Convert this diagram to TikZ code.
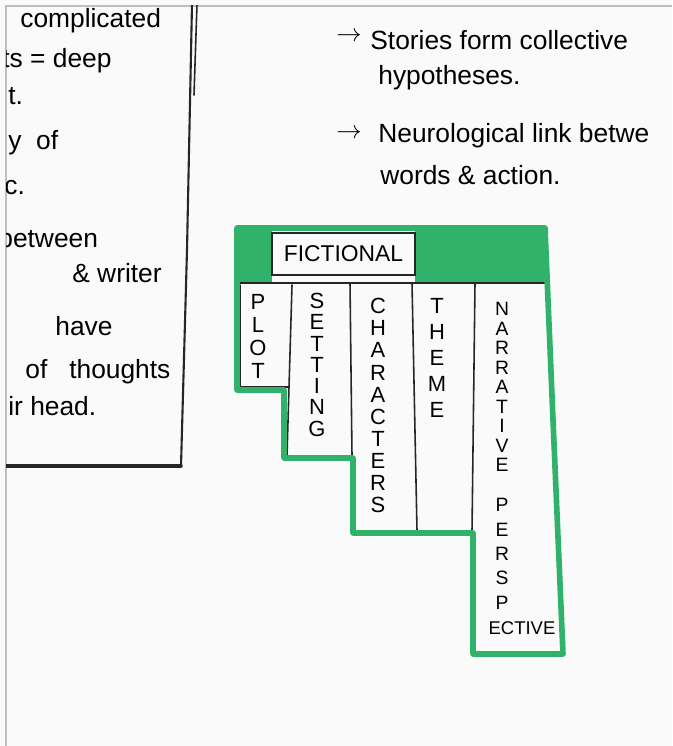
\documentclass[tikz,border=0pt]{standalone}
\usepackage{fontspec}
\setmainfont{Liberation Sans}
\definecolor{marker}{RGB}{48,178,106}
\definecolor{paper}{RGB}{250,250,250}
\tikzset{
  note/.style={anchor=base west, inner sep=0pt, font=\fontsize{15}{18}\selectfont},
  bullet/.style={anchor=base west, inner sep=0pt, font=\fontsize{15}{16}\selectfont},
  stack/.style={anchor=north, inner sep=0pt, align=center},
  ink/.style={draw=black!85, line width=0.9pt, line cap=round, line join=round},
  pen/.style={draw=marker, line width=3.2pt, line join=round},
}
\begin{document}
\begin{tikzpicture}[x=0.02cm, y=-0.02cm]
  \useasboundingbox (0,0) rectangle (672,746);
  \fill[paper] (0,0) rectangle (672,746);
  \draw[black!25, line width=0.8pt] (6,746) -- (6,6) -- (672,6);
  \clip (6,6) rectangle (672,746);

  % left page, cut off at the edge
  \node[note] (l1) at (20,28) {complicated};
  \node[note] (l2) at (2,68) {ts = deep};
  \node[note] (l3) at (8,105) {t.};
  \node[note] (l4) at (8,150) {y\ \ of};
  \node[note] (l5) at (4,195) {c.};
  \node[note] (l6) at (-2,248) {between};
  \node[note] (l7) at (72,282) {\& writer};
  \node[note] (l8) at (55,335) {have};
  \node[note] (l9) at (25,378) {of\ \ \ thoughts};
  \node[note] (l10) at (8,415) {ir head.};
  \draw[ink, line width=1.2pt] (192,4) -- (187,250) -- (181,466);
  \draw[ink] (197,4) -- (194,95);
  \draw[ink, line width=2pt] (4,466) -- (181,466);

  % notes on the right
  \node[bullet] (a1) at (336,42) {$\rightarrow$};
  \node[note] (r1) at (370,50) {Stories form collective};
  \node[note] (r2) at (378,85) {hypotheses.};
  \node[bullet] (a2) at (336,139) {$\rightarrow$};
  \node[note] (r3) at (378,143) {Neurological link betwe};
  \node[note] (r4) at (380,185) {words \& action.};

  % header band
  \fill[marker] (237,228) rectangle (272,283);
  \fill[marker] (415,228) -- (545,228) -- (547,283) -- (415,283) -- cycle;
  \node[draw=black!85, line width=0.9pt, fill=paper, inner sep=0pt,
        minimum width=2.86cm, minimum height=0.84cm,
        font=\fontsize{13}{14}\selectfont] (fictional) at (343.5,254) {FICTIONAL};

  % columns
  \draw[ink] (240,283) -- (546,283);
  \draw[ink] (240,285) -- (240,387) -- (289,387);
  \draw[ink] (292,285) -- (289,387);
  \draw[ink] (289,387) -- (287,456) -- (350,456);
  \draw[ink] (350,283) -- (352,456);
  \draw[ink] (352,456) -- (354,531) -- (472,531);
  \draw[ink] (412,283) -- (417,531);
  \draw[ink] (475,283) -- (472,531) -- (474,651);

  \node[stack, font=\fontsize{12.5}{13.1}\selectfont] (plot) at (258,294) {P\\L\\O\\T};
  \node[stack, font=\fontsize{12.5}{12.1}\selectfont] (setting) at (317,293) {S\\E\\T\\T\\I\\N\\G};
  \node[stack, font=\fontsize{12.5}{12.6}\selectfont] (characters) at (378,298) {C\\H\\A\\R\\A\\C\\T\\E\\R\\S};
  \node[stack, font=\fontsize{12.5}{14.8}\selectfont] (theme) at (437,298) {T\\H\\E\\M\\E};
  \node[stack, font=\fontsize{11}{11.1}\selectfont] (narrative) at (502,302) {N\\A\\R\\R\\A\\T\\I\\V\\E};
  \node[stack, font=\fontsize{11}{13.9}\selectfont] (perspective) at (502,498) {P\\E\\R\\S\\P};
  \node[font=\fontsize{10.5}{12}\selectfont, inner sep=0pt] (ective) at (522,628) {ECTIVE};

  % green marker outline
  \draw[pen] (237,228) -- (545,228) -- (553,420) -- (563,654) -- (473,654)
    -- (473,533) -- (353,533) -- (353,458) -- (284,458) -- (284,390)
    -- (237,390) -- cycle;
\end{tikzpicture}
\end{document}
